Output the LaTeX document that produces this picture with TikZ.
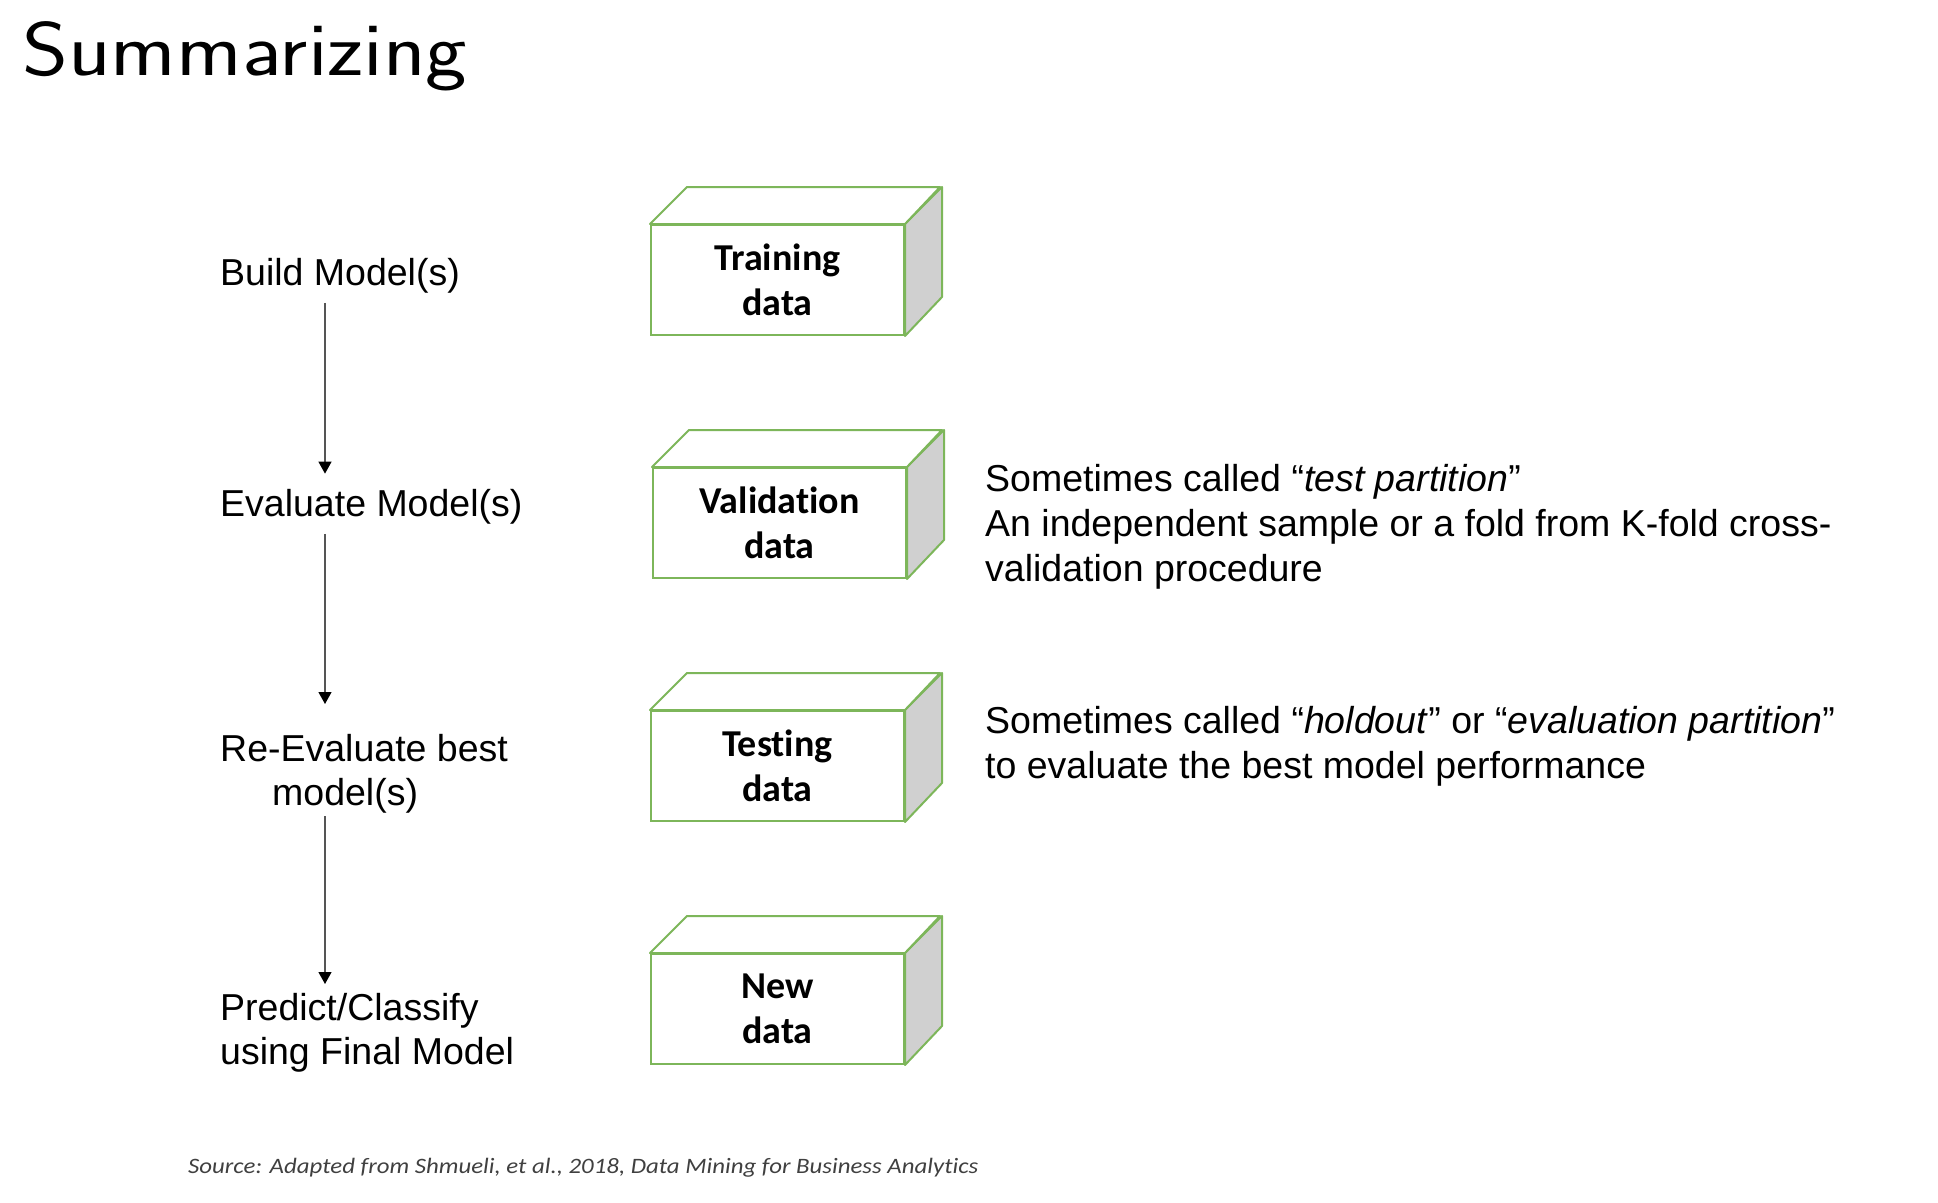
\documentclass[tikz,border=0pt]{standalone}
\usepackage{fontspec}
\setmainfont{Liberation Sans}
\newfontfamily\boxfont[Ligatures=NoCommon]{Carlito}
\usetikzlibrary{arrows.meta,calc}
\definecolor{boxgreen}{HTML}{7DB65A}
\definecolor{sidegray}{HTML}{D0D0D0}
\definecolor{notegray}{HTML}{404040}
\definecolor{linegray}{HTML}{555555}
\begin{document}
\begin{tikzpicture}[x=1pt,y=-1pt,
  databox/.style={draw=boxgreen, line width=2pt, fill=white,
    minimum width=253pt, minimum height=110pt, inner sep=0pt, align=center,
    font=\boxfont\bfseries\fontsize{38}{45}\selectfont},
  steplabel/.style={inner sep=0pt, align=left,
    font=\fontsize{37.5}{44}\selectfont},
  note/.style={inner sep=0pt, align=left,
    font=\fontsize{37.5}{45}\selectfont},
  flow/.style={draw=linegray, line width=1.2pt,
    -{Triangle[width=13pt,length=12pt,color=black]}}]
\useasboundingbox (0,0) rectangle (1938,1202);

% title and source line
\node[anchor=base west, inner sep=0pt] (title) at (22,75)
  {\sffamily\fontsize{76}{80}\selectfont\scalebox{1.16}[1]{Summarizing}};
\node[anchor=base west, inner sep=0pt, text=notegray] (source) at (188,1173)
  {\boxfont\itshape\fontsize{22}{24}\selectfont\scalebox{1.13}[1]{Source: Adapted from Shmueli, et al., 2018, Data Mining for Business Analytics}};

% data partitions drawn as boxes
\node[databox, anchor=north west] (train) at (650,224) {Training\\data};
\node[databox, anchor=north west] (valid) at (652,467) {Validation\\data};
\node[databox, anchor=north west] (test)  at (650,710) {Testing\\data};
\node[databox, anchor=north west] (new)   at (650,953) {New\\data};

\foreach \b in {train,valid,test,new}{
  \filldraw[draw=boxgreen, line width=2pt, fill=sidegray, line join=round]
    (\b.north east) -- ++(37,-37) -- ++(0,110) -- (\b.south east) -- cycle;
  \filldraw[draw=boxgreen, line width=2pt, fill=white, line join=round]
    (\b.north west) -- ++(37,-37) -- ++(253,0) -- (\b.north east) -- cycle;
}

% workflow steps
\coordinate (axis) at (325,0);
\node[steplabel, anchor=base west] (build) at (220,285) {Build Model(s)};
\node[steplabel, anchor=base west] (eval) at (220,516) {Evaluate Model(s)};
\node[steplabel, anchor=north west] (reeval) at (220,734)
  {Re-Evaluate best\\\hspace*{52pt}model(s)};
\node[steplabel, anchor=north west] (predict) at (220,993)
  {Predict/Classify\\using Final Model};

\draw[flow] ([yshift=-10pt]build.south -| axis) -- ([yshift=15pt]eval.north -| axis);
\draw[flow] ([yshift=-10pt]eval.south -| axis) -- ([yshift=30pt]reeval.north -| axis);
\draw[flow] ([yshift=-3pt]reeval.south -| axis) -- ([yshift=9pt]predict.north -| axis);

% notes on the partitions (anchored at the baseline of their last line)
\node[note, anchor=base west] (validnote) at (985,581)
  {Sometimes called \textquotedblleft\textit{test partition}\textquotedblright\\
   An independent sample or a fold from K-fold cross-\\
   validation procedure};
\node[note, anchor=base west] (testnote) at (985,778)
  {Sometimes called \textquotedblleft\textit{holdout}\textquotedblright\ or \textquotedblleft\textit{evaluation partition}\textquotedblright\\
   to evaluate the best model performance};
\end{tikzpicture}
\end{document}
